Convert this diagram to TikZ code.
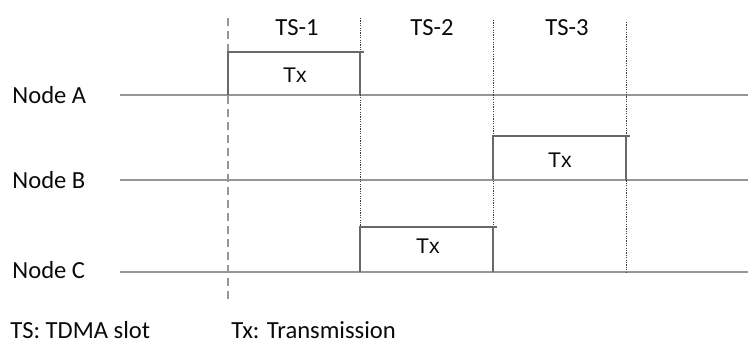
\documentclass[tikz,border=0pt]{standalone}
\usepackage{fontspec}
\setmainfont{Carlito}
\newfontfamily\arialfont{Liberation Sans}
\usetikzlibrary{positioning}
\definecolor{lanegray}{RGB}{150,150,150}
\definecolor{boxgray}{RGB}{105,105,105}
\definecolor{ink}{RGB}{10,10,10}
\tikzset{
  lane/.style={draw=lanegray,line width=0.9pt},
  txbox/.style={draw=boxgray,line width=0.6pt},
  slotline/.style={draw=ink!80,line width=0.45pt,dash pattern=on 0.6pt off 0.6pt},
  startline/.style={draw=lanegray,line width=0.8pt,dash pattern=on 4pt off 2.5pt},
  lbl/.style={font=\fontsize{12.3}{14}\selectfont,text=ink,inner sep=0pt},
  txlbl/.style={font=\arialfont\fontsize{10.6}{12}\selectfont,text=ink,inner sep=0pt},
}

\begin{document}
\begin{tikzpicture}[x=0.5pt,y=-0.5pt]
    \useasboundingbox (0,0) rectangle (748,342);
    % slot boundaries
    \coordinate (s0) at (228,0); \coordinate (s1) at (360,0);
    \coordinate (s2) at (493,0); \coordinate (s3) at (626,0);
    % node lanes
    \node[lbl,anchor=west] (na) at (12,95) {Node A};
    \node[lbl,anchor=west] (nb) at (12,180) {Node B};
    \node[lbl,anchor=west] (nc) at (12,270) {Node C};
    \coordinate (la) at (120,95);  \coordinate (lae) at (748,95);
    \coordinate (lb) at (120,180); \coordinate (lbe) at (748,180);
    \coordinate (lc) at (120,272); \coordinate (lce) at (748,272);
    \draw[lane] (la) -- (lae);
    \draw[lane] (lb) -- (lbe);
    \draw[lane] (lc) -- (lce);
    % slot markers
    \draw[startline] (s0 |- 0,18) -- (s0 |- 0,302);
    \draw[slotline] (s1 |- 0,18) -- (s1 |- lc);
    \draw[slotline] (s2 |- 0,20) -- (s2 |- lc);
    \draw[slotline] (s3 |- 0,22) -- (s3 |- lc);
    \node[lbl] (ts1) at (297,28) {TS-1};
    \node[lbl] (ts2) at (432,28) {TS-2};
    \node[lbl] (ts3) at (567,28) {TS-3};
    % transmissions
    \draw[txbox] (s0 |- la) -- (s0 |- 0,52) -- ([xshift=2]s1 |- 0,52);
    \draw[txbox] (s1 |- 0,52) -- (s1 |- la);
    \node[txlbl] (txa) at (295,75) {Tx};
    \draw[txbox] (s2 |- lb) -- (s2 |- 0,136) -- ([xshift=2]s3 |- 0,136);
    \draw[txbox] (s3 |- 0,136) -- (s3 |- lb);
    \node[txlbl] (txb) at (560,160) {Tx};
    \draw[txbox] (s1 |- lc) -- (s1 |- 0,227) -- ([xshift=2]s2 |- 0,227);
    \draw[txbox] (s2 |- 0,227) -- (s2 |- lc);
    \node[txlbl] (txc) at (428,246) {Tx};
    % legend
    \node[lbl,anchor=west] (key1) at (10,330) {TS: TDMA slot};
    \node[lbl,anchor=west] (key2) at (231,330) {Tx: Transmission};
  \end{tikzpicture}
\end{document}
